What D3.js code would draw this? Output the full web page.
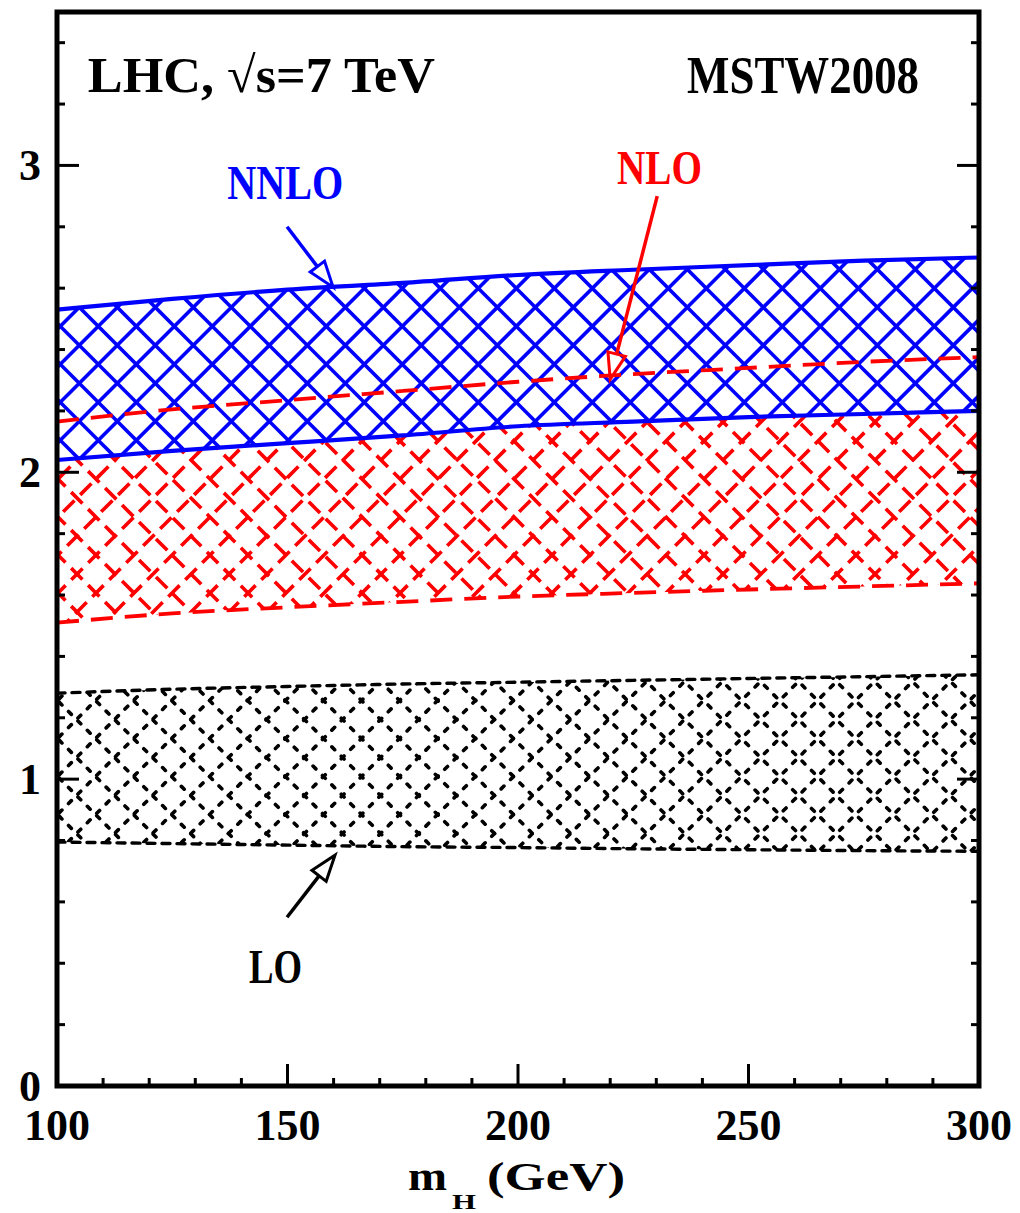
<!DOCTYPE html>
<html>
<head>
<meta charset="utf-8">
<script src="https://cdn.jsdelivr.net/npm/d3@7/dist/d3.min.js"></script>
<style>
  body { margin: 0; background: #fff; }
  text { font-family: "Liberation Serif", "DejaVu Serif", serif; font-weight: bold; }
</style>
</head>
<body>
<svg id="chart" width="1020" height="1213"></svg>
<script>
// Higgs mass grid (GeV) and band edges
const mH     = [100, 125, 150, 175, 200, 225, 250, 275, 300];
const nnloHi = [2.53, 2.565, 2.595, 2.617, 2.643, 2.66, 2.675, 2.69, 2.70];
const nnloLo = [2.04, 2.07, 2.095, 2.12, 2.15, 2.165, 2.18, 2.19, 2.20];
const nloHi  = [2.165, 2.205, 2.235, 2.265, 2.295, 2.32, 2.34, 2.36, 2.375];
const nloLo  = [1.51, 1.54, 1.56, 1.578, 1.595, 1.607, 1.618, 1.628, 1.638];
const loHi   = [1.28, 1.293, 1.302, 1.31, 1.316, 1.322, 1.328, 1.334, 1.34];
const loLo   = [0.795, 0.79, 0.785, 0.78, 0.777, 0.773, 0.77, 0.767, 0.765];

const xTicks = [100, 150, 200, 250, 300];
const yTicks = [0, 1, 2, 3];

// arrows: [from mH, from y, to mH, to y]
const arrowNNLO = [149.9, 2.80, 159.9, 2.603];
const arrowNLO  = [230.2, 2.90, 220.0, 2.303];
const arrowLO   = [149.9, 0.55, 160.3, 0.752];

const svg = d3.select('#chart');
const width = 1020;
const height = 1213;
const pad = { top: 12, right: 41, bottom: 127, left: 57 };

const x = d3.scaleLinear().domain([100, 300]).range([pad.left, width - pad.right]);
const y = d3.scaleLinear().domain([0, 3.5]).range([height - pad.bottom, pad.top]);

const defs = svg.append('defs');
const spacing = 38;

function band (hi, lo) {
  return mH.map((m, i) => ({ m: m, hi: hi[i], lo: lo[i] }));
}

const area = d3.area()
  .x(d => x(d.m))
  .y0(d => y(d.lo))
  .y1(d => y(d.hi))
  .curve(d3.curveMonotoneX);

const edge = key => d3.line()
  .x(d => x(d.m))
  .y(d => y(d[key]))
  .curve(d3.curveMonotoneX);

function hatch (id, data, opt) {
  defs.append('clipPath').attr('id', id)
    .append('path').attr('d', area(data));
  const g = svg.append('g').attr('clip-path', `url(#${id})`);
  if (opt.white) {
    g.append('path').attr('d', area(data)).attr('fill', '#fff');
  }
  const x0 = x.range()[0], x1 = x.range()[1];
  const yT = y.range()[1], yB = y.range()[0];
  // "\" family: y = x + c ; "/" family: y = -x + c
  const c1s = d3.range(yT - x1 - spacing * 2 + opt.p1 % spacing, yB - x0 + spacing, spacing);
  const c2s = d3.range(yT + x0 - spacing * 2 + opt.p2 % spacing, yB + x1 + spacing, spacing);
  const back = opt.fromBottom
    ? c2s.map(c => [c - yB, yB, c - yT, yT])
    : c2s.map(c => [x0, c - x0, x1, c - x1]);
  const lines = c1s.map(c => [x0, x0 + c, x1, x1 + c]).concat(back);
  g.selectAll('line').data(lines).join('line')
    .attr('x1', d => d[0]).attr('y1', d => d[1])
    .attr('x2', d => d[2]).attr('y2', d => d[3])
    .attr('stroke', opt.color)
    .attr('stroke-width', opt.w)
    .attr('stroke-linecap', opt.cap || 'butt')
    .attr('stroke-dasharray', opt.dash || null)
    .attr('stroke-dashoffset', opt.offs || 0);
}

function edges (data, opt) {
  ['hi', 'lo'].forEach(k => {
    svg.append('path')
      .attr('d', edge(k)(data))
      .attr('fill', 'none')
      .attr('stroke', opt.color)
      .attr('stroke-width', opt.w)
      .attr('stroke-linecap', opt.cap || 'butt')
      .attr('stroke-dasharray', opt.dash || null);
  });
}

const lo = band(loHi, loLo);
const nlo = band(nloHi, nloLo);
const nnlo = band(nnloHi, nnloLo);

// LO: dotted cross-hatch
hatch('clipLO', lo, { color: '#000', w: 3.6, dash: '4 9.3', cap: 'round', p1: 14, p2: 5, offs: -3 });
edges(lo, { color: '#000', w: 3.4, dash: '8 7', cap: 'round' });

// NLO: dashed cross-hatch
hatch('clipNLO', nlo, { color: '#f00', w: 3.6, dash: '16 8', p1: 20, p2: 12, offs: 4, fromBottom: true });

// NNLO: solid cross-hatch on white
hatch('clipNNLO', nnlo, { color: '#00f', w: 3.6, p1: 17, p2: 13.6, white: true });

edges(nlo, { color: '#f00', w: 3.8, dash: '22 12' });
edges(nnlo, { color: '#00f', w: 4.2 });

// arrows with open heads
function arrow (a, color) {
  const sx = x(a[0]), sy = y(a[1]), tx = x(a[2]), ty = y(a[3]);
  const len = Math.hypot(tx - sx, ty - sy);
  const ux = (tx - sx) / len, uy = (ty - sy) / len;
  const hl = 26, hw = 9;
  const bx = tx - ux * hl, by = ty - uy * hl;
  svg.append('line')
    .attr('x1', sx).attr('y1', sy).attr('x2', bx).attr('y2', by)
    .attr('stroke', color).attr('stroke-width', 3.5);
  svg.append('path')
    .attr('d', `M${tx},${ty}L${bx - uy * hw},${by + ux * hw}L${bx + uy * hw},${by - ux * hw}Z`)
    .attr('fill', 'none')
    .attr('stroke', color)
    .attr('stroke-width', 3)
    .attr('stroke-linejoin', 'miter');
}
arrow(arrowNNLO, '#00f');
arrow(arrowNLO, '#f00');
arrow(arrowLO, '#000');

// frame and ticks
const x0 = x.range()[0], x1 = x.range()[1];
const yT = y.range()[1], yB = y.range()[0];
const ticks = svg.append('g').attr('stroke', '#000').attr('stroke-width', 3);

d3.range(0, 3.5001, 0.2).forEach(v => {
  const major = Math.abs(v - Math.round(v)) < 1e-6;
  const l = major ? 22 : 8;
  ticks.append('line').attr('x1', x0).attr('x2', x0 + l).attr('y1', y(v)).attr('y2', y(v));
  ticks.append('line').attr('x1', x1).attr('x2', x1 - l).attr('y1', y(v)).attr('y2', y(v));
});
d3.range(110, 300, 10).forEach(v => {
  const l = v % 50 === 0 ? 22 : 8;
  ticks.append('line').attr('x1', x(v)).attr('x2', x(v)).attr('y1', yB).attr('y2', yB - l);
});

svg.append('rect')
  .attr('x', x0).attr('y', yT)
  .attr('width', x1 - x0).attr('height', yB - yT)
  .attr('fill', 'none').attr('stroke', '#000').attr('stroke-width', 5);

svg.selectAll('.ylab').data(yTicks).join('text')
  .attr('class', 'ylab')
  .attr('x', x0 - 27).attr('y', d => y(d) + 15)
  .attr('text-anchor', 'middle').attr('font-size', 44)
  .text(d => d);

svg.selectAll('.xlab').data(xTicks).join('text')
  .attr('class', 'xlab')
  .attr('x', d => x(d)).attr('y', yB + 54)
  .attr('text-anchor', 'middle').attr('font-size', 44)
  .text(d => d);

// axis title
svg.append('text').attr('x', 408).attr('y', 1190).attr('font-size', 41)
  .attr('textLength', 39).attr('lengthAdjust', 'spacingAndGlyphs').text('m');
svg.append('text').attr('x', 452).attr('y', 1209).attr('font-size', 21)
  .attr('textLength', 24).attr('lengthAdjust', 'spacingAndGlyphs').text('H');
svg.append('text').attr('x', 487).attr('y', 1190).attr('font-size', 41)
  .attr('textLength', 138).attr('lengthAdjust', 'spacingAndGlyphs').text('(GeV)');

// labels
function label (txt, mx, my, opt) {
  svg.append('text')
    .attr('x', x(mx)).attr('y', y(my))
    .attr('text-anchor', opt.anchor || 'middle')
    .attr('font-size', opt.size)
    .attr('fill', opt.color || '#000')
    .attr('textLength', opt.len)
    .attr('lengthAdjust', 'spacingAndGlyphs')
    .text(txt);
}
label('LHC, √s=7 TeV', 106.7, 3.238, { anchor: 'start', size: 51, len: 347 });
label('MSTW2008', 287, 3.235, { anchor: 'end', size: 53, len: 232 });
label('NNLO', 149.5, 2.889, { size: 48, len: 116, color: '#00f' });
label('NLO', 230.7, 2.938, { size: 48, len: 85, color: '#f00' });
label('LO', 147.4, 0.335, { size: 49, len: 53 });
</script>
</body>
</html>
